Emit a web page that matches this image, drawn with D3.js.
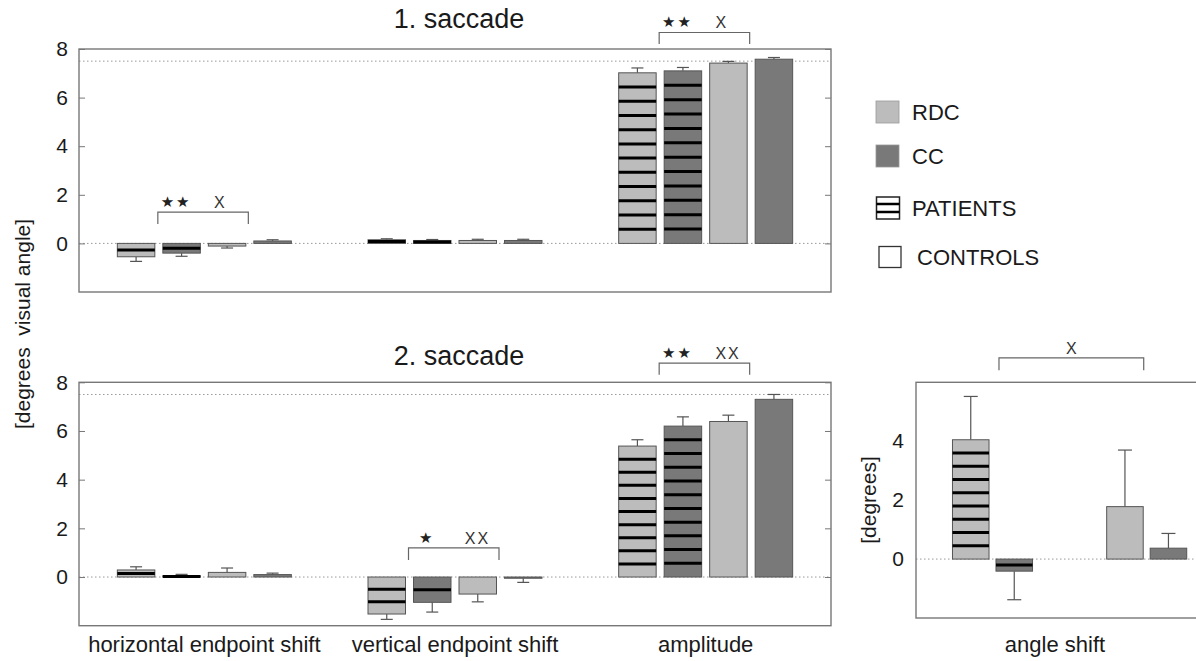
<!DOCTYPE html>
<html>
<head>
<meta charset="utf-8">
<script src="https://d3js.org/d3.v7.min.js"></script>
<style>
  body { margin: 0; background: #fff; }
  text { font-family: "Liberation Sans", Arial, sans-serif; fill: #1a1a1a; }
</style>
</head>
<body>
<script>
// saccade data: groups of 4 bars per measure (mean, error)
var categories = ["horizontal endpoint shift", "vertical endpoint shift", "amplitude"];
var series = ["RDC patients", "CC patients", "RDC controls", "CC controls"];

var sac1Mean = [[-0.55, -0.40, -0.11, 0.10], [0.15, 0.12, 0.12, 0.12], [7.02, 7.10, 7.42, 7.58]];
var sac1Err  = [[0.19, 0.13, 0.08, 0.05], [0.04, 0.04, 0.05, 0.05], [0.20, 0.14, 0.07, 0.07]];
var sac2Mean = [[0.29, 0.05, 0.19, 0.10], [-1.52, -1.04, -0.70, -0.05], [5.38, 6.20, 6.39, 7.30]];
var sac2Err  = [[0.13, 0.06, 0.18, 0.06], [0.22, 0.40, 0.32, 0.17], [0.26, 0.38, 0.26, 0.20]];

var angleGroups = ["patients", "controls"];
var angleSeries = ["RDC", "CC"];
var angleMean = [4.05, -0.41, 1.78, 0.37];
var angleErr  = [1.47, 0.97, 1.92, 0.50];

var mainTicks = [0, 2, 4, 6, 8];
var angleTicks = [0, 2, 4];
var refLines = [0, 7.5];

// significance brackets: between bar 2 and bar 3 of a group
var sac1Brackets = [{cat: 0, y: 1.29, leg: 0.80, marks: ["**", "X"]},
                    {cat: 2, y: 8.68, leg: 8.21, marks: ["**", "X"]}];
var sac2Brackets = [{cat: 1, y: 1.20, leg: 0.70, marks: ["*", "XX"]},
                    {cat: 2, y: 8.79, leg: 8.31, marks: ["**", "XX"]}];
var angleBracket = {y: 6.83, leg: 6.41, marks: ["X"]};

var legendItems = ["RDC", "CC", "PATIENTS", "CONTROLS"];

var LIGHT = "#bcbcbc", DARK = "#797979";

var W = 1196, H = 661;
var svg = d3.select("body").append("svg").attr("width", W).attr("height", H);

var xGroup = d3.scaleBand().domain(categories).range([79, 831]);
var xInner = d3.scaleBand().domain(series).range([0, 182]).paddingInner(0.176).paddingOuter(0.088);

function barX(cat, j) {
  return xGroup(cat) + (xGroup.bandwidth() - 182) / 2 + xInner(series[j]);
}

function drawBar(g, x, w, y, v, e, fill, striped, cap) {
  var y0 = y(0), y1 = y(v);
  var top = Math.min(y0, y1), h = Math.abs(y1 - y0);
  var ye = y(v + (v < 0 ? -e : e));
  var cx = x + w / 2;
  g.append("line").attr("x1", cx).attr("x2", cx).attr("y1", y1).attr("y2", ye)
    .attr("stroke", "#555").attr("stroke-width", 1.2);
  g.append("line").attr("x1", cx - cap / 2).attr("x2", cx + cap / 2).attr("y1", ye).attr("y2", ye)
    .attr("stroke", "#555").attr("stroke-width", 1.2);
  g.append("rect").attr("x", x).attr("y", top).attr("width", w).attr("height", h)
    .attr("fill", fill).attr("stroke", "#555").attr("stroke-width", 1);
  if (striped) {
    var n = Math.max(1, Math.floor(h / 14.5));
    var sp = h / (n + 1);
    for (var k = 1; k <= n; k++) {
      g.append("line").attr("x1", x).attr("x2", x + w)
        .attr("y1", top + k * sp).attr("y2", top + k * sp)
        .attr("stroke", "#000").attr("stroke-width", 3);
    }
  }
}

function drawMarks(g, cx, yb, marks) {
  var first = marks[0], second = marks[1];
  if (second === undefined) {
    g.append("text").attr("x", cx).attr("y", yb - 4).attr("text-anchor", "middle")
      .style("font-size", "16px").style("fill", "#333").text(first);
    return;
  }
  g.append("text").attr("x", cx - 27).attr("y", yb - 5).attr("text-anchor", "middle")
    .style("font-family", "DejaVu Sans").style("font-size", "15px").style("letter-spacing", "2px")
    .style("fill", "#222").text(first.replace(/\*/g, "\u2605"));
  g.append("text").attr("x", cx + 11).attr("y", yb - 4).attr("text-anchor", "start")
    .style("font-size", "16px").style("letter-spacing", "2px").style("fill", "#333").text(second);
}

function drawBracket(g, xa, xb, y, b) {
  var yy = y(b.y), yl = y(b.leg);
  g.append("path").attr("d", "M" + xa + "," + yl + "V" + yy + "H" + xb + "V" + yl)
    .attr("fill", "none").attr("stroke", "#666").attr("stroke-width", 1.2);
  drawMarks(g, (xa + xb) / 2, yy, b.marks);
}

function drawMain(top, bottom, means, errs, brackets, title, titleY) {
  var y = d3.scaleLinear().domain([-2, 8]).range([bottom, top]);
  var g = svg.append("g");
  var x0 = 79, x1 = 831;

  refLines.forEach(function(v) {
    g.append("line").attr("x1", x0).attr("x2", x1).attr("y1", y(v)).attr("y2", y(v))
      .attr("stroke", "#999").attr("stroke-width", 1).attr("stroke-dasharray", "1.5,2.5");
  });

  categories.forEach(function(cat, i) {
    series.forEach(function(s, j) {
      drawBar(g, barX(cat, j), xInner.bandwidth(), y, means[i][j], errs[i][j],
        j % 2 === 0 ? LIGHT : DARK, j < 2, 12);
    });
  });

  g.append("rect").attr("x", x0).attr("y", top).attr("width", x1 - x0).attr("height", bottom - top)
    .attr("fill", "none").attr("stroke", "#777").attr("stroke-width", 1.4);

  // inward ticks both sides
  var axL = d3.axisLeft(y).tickValues(mainTicks).tickSize(-6).tickPadding(11).tickFormat(d3.format("d"));
  var gl = g.append("g").attr("transform", "translate(" + x0 + ",0)").call(axL);
  var axR = d3.axisRight(y).tickValues(mainTicks).tickSize(-6).tickFormat("");
  var gr = g.append("g").attr("transform", "translate(" + x1 + ",0)").call(axR);
  [gl, gr].forEach(function(a) {
    a.select(".domain").remove();
    a.selectAll(".tick line").attr("stroke", "#777");
  });
  gl.selectAll(".tick text").style("font-size", "21px").attr("fill", "#1a1a1a")
    .style("font-family", "Liberation Sans, Arial, sans-serif");

  brackets.forEach(function(b) {
    var c = categories[b.cat];
    drawBracket(g, barX(c, 1) - 5, barX(c, 2) + xInner.bandwidth() + 2.5, y, b);
  });

  g.append("text").attr("x", 459).attr("y", titleY).attr("text-anchor", "middle")
    .style("font-size", "27px").text(title);
}

drawMain(49, 292, sac1Mean, sac1Err, sac1Brackets, "1. saccade", 28);
drawMain(382.3, 625.7, sac2Mean, sac2Err, sac2Brackets, "2. saccade", 365);

categories.forEach(function(cat) {
  svg.append("text").attr("x", xGroup(cat) + xGroup.bandwidth() / 2).attr("y", 652)
    .attr("text-anchor", "middle").style("font-size", "22px").text(cat);
});

svg.append("text").attr("transform", "translate(22,324) rotate(-90)")
  .attr("text-anchor", "middle").attr("dominant-baseline", "central")
  .style("white-space", "pre")
  .style("font-size", "21px").text("[degrees  visual angle]");

// angle shift panel
(function() {
  var top = 382.3, bottom = 618, x0 = 916, x1 = 1224;
  var y = d3.scaleLinear().domain([-2, 6]).range([bottom, top]);
  var xg = d3.scaleBand().domain(angleGroups).range([915.4, 1223.8]);
  var xi = d3.scaleBand().domain(angleSeries).range([0, 87]).paddingInner(0.16).paddingOuter(0.08);
  var g = svg.append("g");
  function bx(k) {
    return xg(angleGroups[Math.floor(k / 2)]) + (xg.bandwidth() - 87) / 2 + xi(angleSeries[k % 2]);
  }
  g.append("line").attr("x1", x0).attr("x2", x1).attr("y1", y(0)).attr("y2", y(0))
    .attr("stroke", "#999").attr("stroke-width", 1).attr("stroke-dasharray", "1.5,2.5");
  angleMean.forEach(function(v, k) {
    drawBar(g, bx(k), xi.bandwidth(), y, v, angleErr[k], k % 2 === 0 ? LIGHT : DARK, k < 2, 14);
  });
  g.append("rect").attr("x", x0).attr("y", top).attr("width", x1 - x0).attr("height", bottom - top)
    .attr("fill", "none").attr("stroke", "#777").attr("stroke-width", 1.4);
  var ax = d3.axisLeft(y).tickValues(angleTicks).tickSize(0).tickPadding(12).tickFormat(d3.format("d"));
  var ga = g.append("g").attr("transform", "translate(" + x0 + ",0)").call(ax);
  ga.select(".domain").remove();
  ga.selectAll(".tick text").style("font-size", "21px").attr("fill", "#1a1a1a")
    .style("font-family", "Liberation Sans, Arial, sans-serif");
  drawBracket(g, bx(1) + 3, bx(2) + xi.bandwidth() + 0.5, y, angleBracket);

  svg.append("text").attr("transform", "translate(868,500) rotate(-90)")
    .attr("text-anchor", "middle").attr("dominant-baseline", "central")
    .style("font-size", "21px").text("[degrees]");
  svg.append("text").attr("x", 1055).attr("y", 652).attr("text-anchor", "middle")
    .style("font-size", "22px").text("angle shift");
})();

// legend
var legY = [112, 156, 208, 257];
legendItems.forEach(function(name, i) {
  var g = svg.append("g").attr("transform", "translate(876," + legY[i] + ")");
  if (i < 2) {
    g.append("rect").attr("x", 0).attr("y", -11).attr("width", 23).attr("height", 22)
      .attr("fill", i === 0 ? LIGHT : DARK).attr("stroke", "#999").attr("stroke-width", 0.8);
  } else if (i === 2) {
    g.append("rect").attr("x", 0.5).attr("y", -11).attr("width", 23).attr("height", 22)
      .attr("fill", "#fff").attr("stroke", "#222").attr("stroke-width", 1.5);
    [-4, 4].forEach(function(d) {
      g.append("line").attr("x1", 0.5).attr("x2", 23.5).attr("y1", d).attr("y2", d)
        .attr("stroke", "#000").attr("stroke-width", 2.5);
    });
  } else {
    g.append("rect").attr("x", 3).attr("y", -10.5).attr("width", 22).attr("height", 21)
      .attr("fill", "#fff").attr("stroke", "#333").attr("stroke-width", 1.3);
  }
  g.append("text").attr("x", i < 3 ? 36 : 41).attr("y", 0).attr("dominant-baseline", "central")
    .style("font-size", "22px").text(name);
});
</script>
</body>
</html>
